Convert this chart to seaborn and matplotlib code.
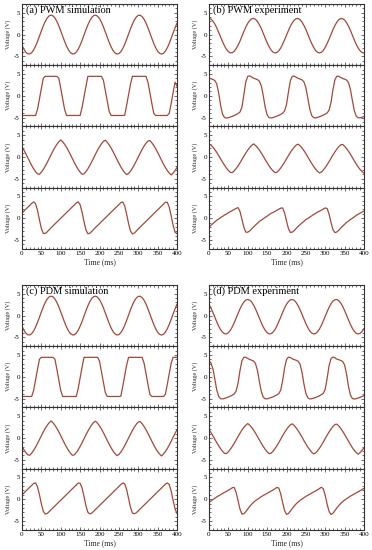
import matplotlib
matplotlib.use("Agg")
import matplotlib.pyplot as plt
from matplotlib.ticker import MultipleLocator
import seaborn as sns

# ---------------- data ----------------
TIME_MS = list(range(0, 401, 5))          # sample times, ms
X_TICKS = [0, 50, 100, 150, 200, 250, 300, 350, 400]
Y_TICKS = [-5, 0, 5]
TITLES = ["(a) PWM simulation", "(b) PWM experiment",
          "(c) PDM simulation", "(d) PDM experiment"]

PWM_SIM_1 = [-2.43, -3.36, -4.02, -4.39, -4.42, -4.12, -3.51, -2.63, -1.56, -0.37,
             0.85, 2.01, 3.01, 3.79, 4.28, 4.45, 4.28, 3.79, 3.01, 2.01,
             0.85, -0.37, -1.56, -2.63, -3.51, -4.12, -4.42, -4.39, -4.02, -3.36,
             -2.43, -1.33, -0.12, 1.09, 2.23, 3.19, 3.91, 4.34, 4.44, 4.21,
             3.66, 2.83, 1.79, 0.61, -0.61, -1.79, -2.83, -3.66, -4.21, -4.44,
             -4.34, -3.91, -3.19, -2.23, -1.09, 0.12, 1.33, 2.43, 3.36, 4.02,
             4.39, 4.42, 4.12, 3.51, 2.63, 1.56, 0.37, -0.85, -2.01, -3.01,
             -3.79, -4.28, -4.45, -4.28, -3.79, -3.01, -2.01, -0.85, 0.37, 1.56, 2.63]
PWM_SIM_2 = [-4.5, -4.5, -4.5, -4.5, -4.5, -4.5, -4.5, -4.5, -3.12, -0.74,
             1.71, 4.01, 4.45, 4.45, 4.45, 4.45, 4.45, 4.45, 4.45, 4.01,
             1.71, -0.74, -3.12, -4.5, -4.5, -4.5, -4.5, -4.5, -4.5, -4.5,
             -4.5, -2.66, -0.25, 2.18, 4.45, 4.45, 4.45, 4.45, 4.45, 4.45,
             4.45, 4.45, 3.58, 1.22, -1.22, -3.58, -4.5, -4.5, -4.5, -4.5,
             -4.5, -4.5, -4.5, -4.45, -2.18, 0.25, 2.66, 4.45, 4.45, 4.45,
             4.45, 4.45, 4.45, 4.45, 4.45, 3.12, 0.74, -1.71, -4.01, -4.5,
             -4.5, -4.5, -4.5, -4.5, -4.5, -4.5, -4.01, -1.71, 0.74, 3.12, 2.2]
PWM_SIM_3 = [2.35, 1.57, 0.71, -0.19, -1.08, -1.93, -2.70, -3.35, -3.86, -3.95,
             -3.46, -2.84, -2.09, -1.26, -0.37, 0.53, 1.40, 2.20, 2.90, 3.48,
             3.90, 3.48, 2.90, 2.20, 1.40, 0.53, -0.37, -1.26, -2.09, -2.84,
             -3.46, -3.95, -3.86, -3.35, -2.70, -1.93, -1.08, -0.19, 0.71, 1.57,
             2.35, 3.03, 3.57, 3.83, 3.37, 2.77, 2.05, 1.23, 0.35, -0.55,
             -1.43, -2.25, -2.97, -3.57, -4.03, -3.77, -3.23, -2.55, -1.77, -0.91,
             -0.01, 0.88, 1.73, 2.50, 3.15, 3.66, 3.75, 3.26, 2.64, 1.89,
             1.06, 0.17, -0.73, -1.60, -2.40, -3.10, -3.68, -4.10, -3.68, -3.10, -2.40]
PWM_SIM_4 = [1.20, 1.64, 2.07, 2.51, 2.94, 3.38, 3.72, 3.33, 1.78, -0.37,
             -2.36, -3.49, -3.48, -3.13, -2.65, -2.19, -1.75, -1.32, -0.88, -0.45,
             -0.01, 0.42, 0.86, 1.29, 1.73, 2.16, 2.60, 3.03, 3.47, 3.75,
             3.10, 1.38, -0.80, -2.68, -3.57, -3.44, -3.04, -2.55, -2.10, -1.67,
             -1.23, -0.80, -0.36, 0.07, 0.51, 0.94, 1.38, 1.81, 2.25, 2.68,
             3.12, 3.55, 3.72, 2.83, 0.95, -1.23, -2.95, -3.60, -3.40, -2.95,
             -2.45, -2.01, -1.58, -1.15, -0.71, -0.28, 0.16, 0.60, 1.03, 1.47,
             1.90, 2.34, 2.77, 3.21, 3.64, 3.64, 2.51, 0.52, -1.63, -3.18, -3.56]

PWM_EXP_1 = [3.70, 3.55, 3.12, 2.42, 1.53, 0.51, -0.58, -1.60, -2.59, -3.37,
             -3.91, -4.18, -4.14, -3.82, -3.23, -2.41, -1.48, -0.36, 0.72, 1.73,
             2.58, 3.22, 3.61, 3.69, 3.49, 3.00, 2.26, 1.38, 0.29, -0.79,
             -1.84, -2.76, -3.50, -3.99, -4.19, -4.10, -3.72, -3.08, -2.18, -1.22,
             -0.14, 0.93, 1.91, 2.73, 3.32, 3.64, 3.68, 3.41, 2.87, 2.09,
             1.18, 0.08, -1.01, -2.03, -2.92, -3.62, -4.05, -4.20, -4.05, -3.62,
             -2.92, -2.00, -1.01, 0.08, 1.14, 2.09, 2.87, 3.41, 3.68, 3.64,
             3.32, 2.73, 1.91, 0.97, -0.14, -1.22, -2.23, -3.08, -3.72, -4.10, -4.19]
PWM_EXP_2 = [4.05, 3.90, 3.75, 3.50, 2.70, 0.60, -2.20, -4.20, -4.95, -5.10,
             -5.00, -4.85, -4.70, -4.50, -4.30, -4.05, -3.70, -2.60, 0.30, 3.20,
             4.45, 4.55, 4.30, 4.02, 3.87, 3.70, 3.34, 2.28, 0.04, -2.60,
             -4.35, -4.98, -5.08, -4.97, -4.82, -4.66, -4.46, -4.25, -3.98, -3.48,
             -2.00, 0.88, 3.45, 4.47, 4.50, 4.25, 3.99, 3.84, 3.65, 3.18,
             1.86, -0.52, -3.00, -4.50, -5.01, -5.06, -4.94, -4.79, -4.62, -4.42,
             -4.20, -3.91, -3.26, -1.44, 1.46, 3.70, 4.49, 4.45, 4.20, 3.96,
             3.81, 3.60, 3.02, 1.44, -1.08, -3.40, -4.65, -5.04, -5.04, -4.91, -4.76]
PWM_EXP_3 = [2.94, 2.73, 2.27, 1.70, 1.05, 0.33, -0.43, -1.17, -1.88, -2.52,
             -3.07, -3.50, -3.57, -3.16, -2.64, -2.02, -1.32, -0.58, 0.18, 0.91,
             1.58, 2.17, 2.64, 3.00, 2.64, 2.17, 1.58, 0.91, 0.18, -0.58,
             -1.32, -2.02, -2.64, -3.16, -3.57, -3.50, -3.07, -2.52, -1.88, -1.17,
             -0.43, 0.33, 1.05, 1.70, 2.27, 2.73, 2.94, 2.56, 2.06, 1.45,
             0.77, 0.03, -0.73, -1.47, -2.15, -2.76, -3.26, -3.64, -3.43, -2.97,
             -2.40, -1.75, -1.03, -0.27, 0.47, 1.18, 1.82, 2.37, 2.80, 2.87,
             2.46, 1.94, 1.32, 0.62, -0.12, -0.88, -1.61, -2.28, -2.87, -3.34, -3.70]
PWM_EXP_4 = [-2.05, -1.64, -1.24, -0.86, -0.45, -0.18, 0.12, 0.42, 0.72, 0.95,
             1.25, 1.50, 1.75, 2.00, 2.25, 2.42, 1.54, -0.23, -2.08, -3.19,
             -3.21, -2.91, -2.45, -1.98, -1.56, -1.16, -0.72, -0.44, -0.12, 0.18,
             0.48, 0.78, 1.10, 1.30, 1.55, 1.80, 2.05, 2.30, 2.34, 1.23,
             -0.62, -2.39, -3.27, -3.18, -2.83, -2.35, -1.88, -1.48, -1.08, -0.72,
             -0.30, -0.06, 0.24, 0.54, 0.84, 1.10, 1.40, 1.60, 1.85, 2.10,
             2.35, 2.21, 0.90, -1.01, -2.66, -3.30, -3.15, -2.75, -2.25, -1.80,
             -1.40, -0.95, -0.65, -0.30, 0.00, 0.30, 0.65, 0.90, 1.15, 1.40, 1.65]

PDM_SIM_1 = [-2.43, -3.36, -4.02, -4.39, -4.42, -4.12, -3.51, -2.63, -1.56, -0.37,
             0.85, 2.01, 3.01, 3.79, 4.28, 4.45, 4.28, 3.79, 3.01, 2.01,
             0.85, -0.37, -1.56, -2.63, -3.51, -4.12, -4.42, -4.39, -4.02, -3.36,
             -2.43, -1.33, -0.12, 1.09, 2.23, 3.19, 3.91, 4.34, 4.44, 4.21,
             3.66, 2.83, 1.79, 0.61, -0.61, -1.79, -2.83, -3.66, -4.21, -4.44,
             -4.34, -3.91, -3.19, -2.23, -1.09, 0.12, 1.33, 2.43, 3.36, 4.02,
             4.39, 4.42, 4.12, 3.51, 2.63, 1.56, 0.37, -0.85, -2.01, -3.01,
             -3.79, -4.28, -4.45, -4.28, -3.79, -3.01, -2.01, -0.85, 0.37, 1.56, 2.63]
PDM_SIM_2 = [-4.5, -4.5, -4.5, -4.5, -4.5, -4.5, -3.12, -0.74, 1.71, 4.01,
             4.45, 4.45, 4.45, 4.45, 4.45, 4.45, 4.45, 4.01, 1.71, -0.74,
             -3.12, -4.5, -4.5, -4.5, -4.5, -4.5, -4.5, -4.5, -4.5, -2.66,
             -0.25, 2.18, 4.45, 4.45, 4.45, 4.45, 4.45, 4.45, 4.45, 4.45,
             3.58, 1.22, -1.22, -3.58, -4.5, -4.5, -4.5, -4.5, -4.5, -4.5,
             -4.5, -4.45, -2.18, 0.25, 2.66, 4.45, 4.45, 4.45, 4.45, 4.45,
             4.45, 4.45, 4.45, 3.12, 0.74, -1.71, -4.01, -4.5, -4.5, -4.5,
             -4.5, -4.5, -4.5, -4.5, -4.01, -1.71, 0.74, 3.12, 4.45, 4.45, 4.45]
PDM_SIM_3 = [-1.93, -2.70, -3.35, -3.86, -3.95, -3.46, -2.84, -2.09, -1.26, -0.37,
             0.53, 1.40, 2.20, 2.90, 3.48, 3.90, 3.48, 2.90, 2.20, 1.40,
             0.53, -0.37, -1.26, -2.09, -2.84, -3.46, -3.95, -3.86, -3.35, -2.70,
             -1.93, -1.08, -0.19, 0.71, 1.57, 2.35, 3.03, 3.57, 3.83, 3.37,
             2.77, 2.05, 1.23, 0.35, -0.55, -1.43, -2.25, -2.97, -3.57, -4.03,
             -3.77, -3.23, -2.55, -1.77, -0.91, -0.01, 0.88, 1.73, 2.50, 3.15,
             3.66, 3.75, 3.26, 2.64, 1.89, 1.06, 0.17, -0.73, -1.60, -2.40,
             -3.10, -3.68, -4.10, -3.68, -3.10, -2.40, -1.60, -0.73, 0.17, 1.06, 1.89]
PDM_SIM_4 = [0.99, 1.43, 1.86, 2.30, 2.73, 3.17, 3.60, 3.73, 2.85, 1.03,
             -1.09, -2.77, -3.40, -3.25, -2.85, -2.40, -1.97, -1.53, -1.10, -0.66,
             -0.23, 0.21, 0.64, 1.08, 1.52, 1.95, 2.39, 2.82, 3.26, 3.69,
             3.65, 2.55, 0.61, -1.49, -2.99, -3.37, -3.17, -2.76, -2.31, -1.88,
             -1.44, -1.01, -0.57, -0.14, 0.30, 0.73, 1.17, 1.61, 2.04, 2.48,
             2.91, 3.35, 3.72, 3.52, 2.20, 0.18, -1.86, -3.17, -3.34, -3.09,
             -2.67, -2.23, -1.79, -1.36, -0.92, -0.49, -0.05, 0.38, 0.82, 1.26,
             1.69, 2.13, 2.56, 3.00, 3.43, 3.73, 3.34, 1.84, -0.26, -2.20, -3.30]

PDM_EXP_1 = [2.58, 1.73, 0.72, -0.36, -1.43, -2.41, -3.23, -3.82, -4.14, -4.18,
             -3.91, -3.37, -2.59, -1.64, -0.58, 0.51, 1.53, 2.42, 3.12, 3.55,
             3.70, 3.55, 3.12, 2.42, 1.53, 0.51, -0.58, -1.64, -2.59, -3.37,
             -3.91, -4.18, -4.14, -3.82, -3.23, -2.41, -1.43, -0.36, 0.72, 1.73,
             2.58, 3.22, 3.61, 3.69, 3.49, 3.00, 2.26, 1.34, 0.29, -0.79,
             -1.84, -2.76, -3.50, -3.99, -4.19, -4.10, -3.72, -3.08, -2.23, -1.22,
             -0.14, 0.93, 1.91, 2.73, 3.32, 3.64, 3.68, 3.41, 2.87, 2.09,
             1.14, 0.08, -1.01, -2.03, -2.92, -3.62, -4.05, -4.20, -4.05, -3.62, -2.92]
PDM_EXP_2 = [3.65, 3.18, 1.86, -0.52, -3.00, -4.50, -5.01, -5.06, -4.94, -4.79,
             -4.62, -4.42, -4.20, -3.91, -3.26, -1.44, 1.46, 3.70, 4.49, 4.45,
             4.20, 3.96, 3.81, 3.60, 3.02, 1.44, -1.08, -3.40, -4.65, -5.04,
             -5.04, -4.91, -4.76, -4.58, -4.38, -4.15, -3.84, -3.08, -0.88, 2.00,
             3.95, 4.51, 4.40, 4.12, 3.93, 3.78, 3.55, 2.86, 1.02, -1.64,
             -3.80, -4.80, -5.07, -5.02, -4.88, -4.74, -4.54, -4.34, -4.10, -3.78,
             -2.82, -0.28, 2.62, 4.20, 4.53, 4.35, 4.05, 3.90, 3.75, 3.50,
             2.70, 0.60, -2.20, -4.20, -4.95, -5.10, -5.00, -4.85, -4.70, -4.50, -4.30]
PDM_EXP_3 = [1.95, 1.26, 0.51, -0.28, -1.06, -1.80, -2.47, -3.04, -3.49, -3.57,
             -3.14, -2.59, -1.94, -1.22, -0.44, 0.35, 1.11, 1.82, 2.43, 2.93,
             3.30, 2.93, 2.43, 1.82, 1.11, 0.35, -0.44, -1.22, -1.94, -2.59,
             -3.14, -3.57, -3.49, -3.04, -2.47, -1.80, -1.06, -0.28, 0.51, 1.26,
             1.95, 2.54, 3.01, 3.24, 2.84, 2.31, 1.68, 0.97, 0.20, -0.60,
             -1.37, -2.08, -2.71, -3.24, -3.64, -3.41, -2.94, -2.35, -1.66, -0.91,
             -0.12, 0.66, 1.40, 2.07, 2.64, 3.09, 3.17, 2.74, 2.19, 1.54,
             0.82, 0.04, -0.75, -1.51, -2.22, -2.83, -3.33, -3.70, -3.33, -2.83, -2.22]
PDM_EXP_4 = [-0.79, -0.41, -0.08, 0.22, 0.52, 0.80, 1.05, 1.30, 1.55, 1.80,
             2.05, 2.32, 2.62, 2.69, 1.57, -0.35, -2.27, -3.39, -3.32, -2.84,
             -2.24, -1.67, -1.15, -0.71, -0.34, -0.02, 0.28, 0.58, 0.85, 1.10,
             1.35, 1.60, 1.85, 2.10, 2.38, 2.68, 2.56, 1.23, -0.76, -2.58,
             -3.47, -3.26, -2.72, -2.12, -1.56, -1.05, -0.63, -0.27, 0.04, 0.34,
             0.64, 0.90, 1.15, 1.40, 1.65, 1.90, 2.15, 2.44, 2.74, 2.38,
             0.86, -1.17, -2.85, -3.50, -3.20, -2.60, -2.00, -1.45, -0.95, -0.55,
             -0.20, 0.10, 0.40, 0.70, 0.95, 1.20, 1.45, 1.70, 1.95, 2.20, 2.50]

PANELS = [
    [PWM_SIM_1, PWM_SIM_2, PWM_SIM_3, PWM_SIM_4],
    [PWM_EXP_1, PWM_EXP_2, PWM_EXP_3, PWM_EXP_4],
    [PDM_SIM_1, PDM_SIM_2, PDM_SIM_3, PDM_SIM_4],
    [PDM_EXP_1, PDM_EXP_2, PDM_EXP_3, PDM_EXP_4],
]

# ---------------- style ----------------
sns.set_theme(style="ticks")
plt.rcParams["font.family"] = ["Liberation Serif", "DejaVu Serif"]
plt.rcParams["axes.unicode_minus"] = False

LINE_COLOR = "#a4483a"
W, H = 372.0, 550.0
fig = plt.figure(figsize=(W / 100, H / 100), dpi=100)

col_left = [22.0, 209.0]
col_width = 155.0
block_top = [4.0, 285.0]
panel_h = 61.2

for g, series in enumerate(PANELS):
    col = g % 2
    blk = g // 2
    for i, vals in enumerate(series):
        top = block_top[blk] + i * panel_h
        ax = fig.add_axes([col_left[col] / W, 1 - (top + panel_h) / H,
                           col_width / W, panel_h / H])
        sns.lineplot(x=TIME_MS, y=vals, ax=ax, color=LINE_COLOR,
                     linewidth=0.9, estimator=None)
        ax.set_xlim(0, 400)
        ax.set_ylim(-7, 7)
        ax.set_xticks(X_TICKS)
        ax.set_yticks(Y_TICKS)
        ax.xaxis.set_minor_locator(MultipleLocator(10))
        ax.yaxis.set_minor_locator(MultipleLocator(1))
        ax.tick_params(which="both", direction="in", top=True, right=True,
                       width=0.5, colors="#333333", labelcolor="black",
                       labelsize=5, pad=1.5)
        ax.tick_params(which="major", length=2.5)
        ax.tick_params(which="minor", length=1.3)
        for sp in ax.spines.values():
            sp.set_linewidth(0.8)
            sp.set_color("#333333")
        ax.set_ylabel("Voltage (V)", fontsize=4.5, labelpad=2)
        if i == 3:
            ax.set_xlabel("Time (ms)", fontsize=5.5, labelpad=1.5)
        else:
            ax.set_xlabel("")
            ax.tick_params(labelbottom=False)
        if i == 0:
            ax.text(0.025, 0.97, TITLES[g], transform=ax.transAxes,
                    fontsize=7.5, va="top", ha="left", color="black")

fig.savefig("out.png", dpi=100)
